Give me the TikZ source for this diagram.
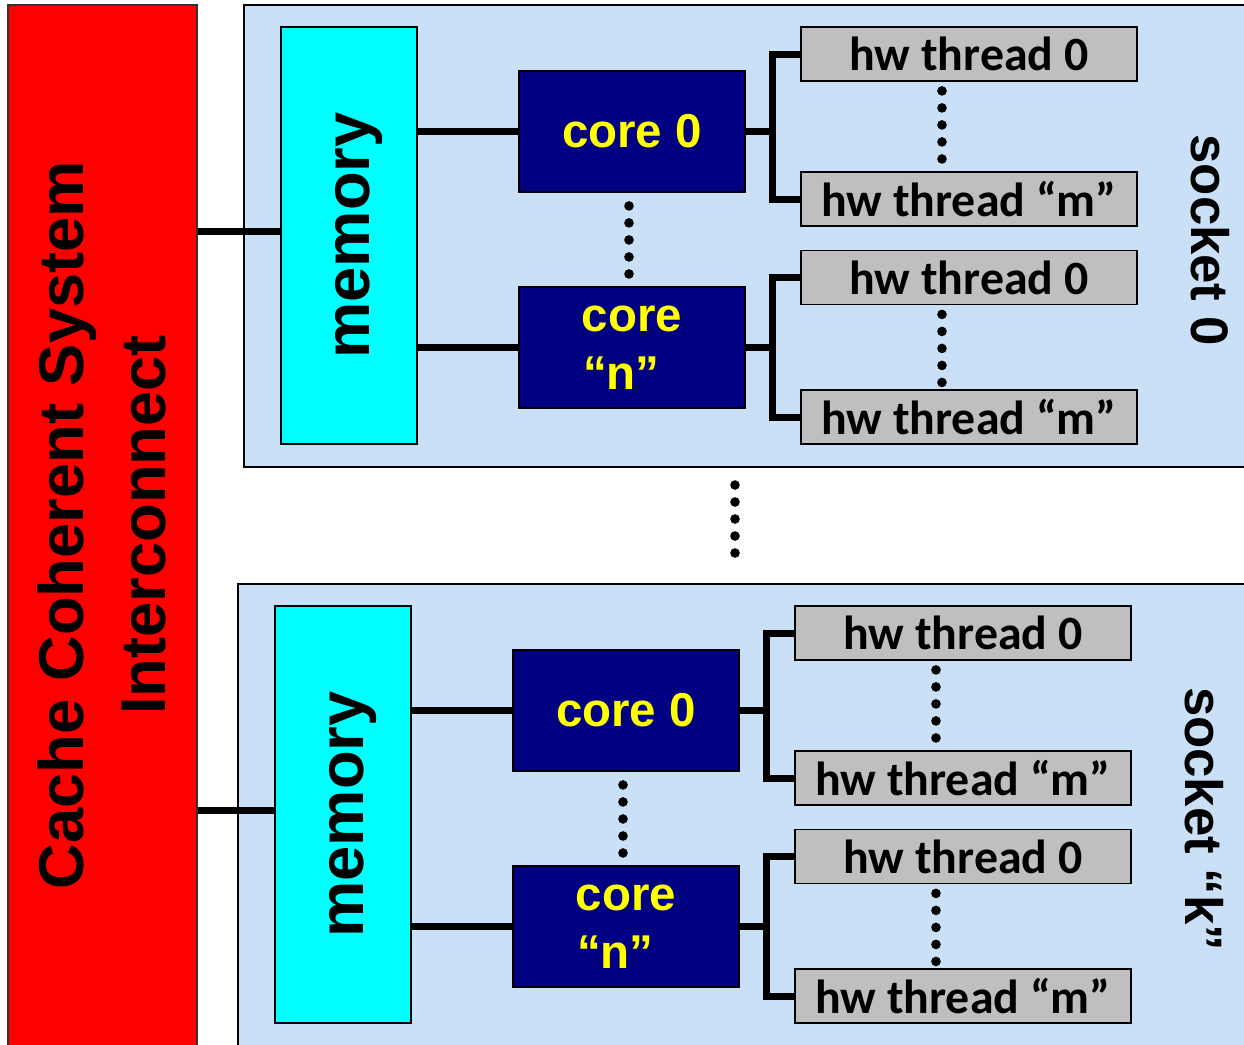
\documentclass[tikz,border=0pt]{standalone}
\usepackage{fontspec}
\setmainfont{Liberation Sans}
\newfontfamily\thrfont{Carlito}
\usepackage{tikz}
\usetikzlibrary{positioning}

\definecolor{sockblue}{RGB}{201,224,246}
\definecolor{corenavy}{RGB}{0,0,128}
\definecolor{thrgray}{RGB}{191,191,191}
\definecolor{memcyan}{RGB}{0,255,255}
\definecolor{ccsred}{RGB}{255,0,0}
\definecolor{coreyellow}{RGB}{255,255,0}

\begin{document}
\begin{tikzpicture}[
  x=0.01cm, y=-0.01cm,
  link/.style={line width=0.07cm, black},
  sockbox/.style={draw=black, line width=0.5pt, fill=sockblue},
  ccsbox/.style={draw=black!80, line width=0.5pt, fill=ccsred, minimum width=1.89cm, minimum height=10.6cm},
  membox/.style={draw=black, line width=0.5pt, fill=memcyan, minimum width=1.36cm, minimum height=4.17cm},
  corebox/.style={draw=black, line width=0.5pt, fill=corenavy, text=coreyellow, minimum width=2.26cm,
    minimum height=1.21cm, align=center, font=\fontsize{13.5}{16.5}\selectfont\bfseries},
  thrbox/.style={draw=black, line width=0.5pt, fill=thrgray, minimum width=3.36cm, minimum height=0.54cm,
    inner sep=0pt, font=\thrfont\fontsize{13.6}{16}\selectfont\bfseries},
  bigtext/.style={font=\fontsize{18}{23.5}\selectfont\bfseries, align=center},
  socktext/.style={font=\fontsize{15}{18}\selectfont\bfseries, rotate=-90},
  dotr/.style={radius=0.048cm}
]
  \useasboundingbox (0,0) rectangle (1244,1044);
  \clip (0,0) rectangle (1244,1044);

  % interconnect
  \node[ccsbox] (ccs) at (102.5,535) {};
  \node[bigtext, rotate=90] (ccslab) at (102,525) {Cache Coherent System\\Interconnect};

  \foreach \s/\dx/\dy/\lab in {0/0/0/socket 0, k/-6/579/socket “k”} {
    \begin{scope}[shift={(\dx,\dy)}]
      \draw[sockbox] (244,5) rectangle (1270,467);

      \node[membox] (mem\s) at (349,235.5) {};
      \node[bigtext, rotate=90] (memlab\s) at ([xshift=0.1cm]mem\s.center) {memory};

      \node[corebox] (cA\s) at (632,131.5) {core 0};
      \node[corebox] (cB\s) at (632,347.5) {core\\“n”\hspace*{0.45em}};

      \node[thrbox] (tA\s) at (969,54) {hw thread 0};
      \node[thrbox] (tB\s) at (969,199) {hw thread “m”};
      \node[thrbox] (tC\s) at (969,277.5) {hw thread 0};
      \node[thrbox] (tD\s) at (969,417) {hw thread “m”};

      \node[socktext] (slab\s) at (1210,240) {\lab};

      % links
      \draw[link] ([yshift=0.04cm]mem\s.west -| ccs.east) -- ([yshift=0.04cm]mem\s.west);
      \draw[link] (cA\s.west -| mem\s.east) -- (cA\s.west);
      \draw[link] (cB\s.west -| mem\s.east) -- (cB\s.west);

      \coordinate (bA\s) at ([xshift=0.27cm]cA\s.east);
      \coordinate (bB\s) at ([xshift=0.27cm]cB\s.east);
      \draw[link] (cA\s.east) -- (bA\s);
      \draw[link] (cB\s.east) -- (bB\s);
      \draw[link] (tA\s.west) -| (bA\s) |- (tB\s.west);
      \draw[link] (tC\s.west) -| (bB\s) |- (tD\s.west);

      % dots
      \foreach \i in {0,...,4} {
        \fill ([xshift=-0.03cm, yshift={-0.13cm-\i*0.17cm}]cA\s.south) circle[dotr];
        \fill ([xshift=-0.27cm, yshift={-0.09cm-\i*0.17cm}]tA\s.south) circle[dotr];
        \fill ([xshift=-0.27cm, yshift={-0.09cm-\i*0.17cm}]tC\s.south) circle[dotr];
      }
    \end{scope}
  }

  \foreach \i in {0,...,4}
    \fill (735,{485+\i*17}) circle[dotr];
\end{tikzpicture}
\end{document}
